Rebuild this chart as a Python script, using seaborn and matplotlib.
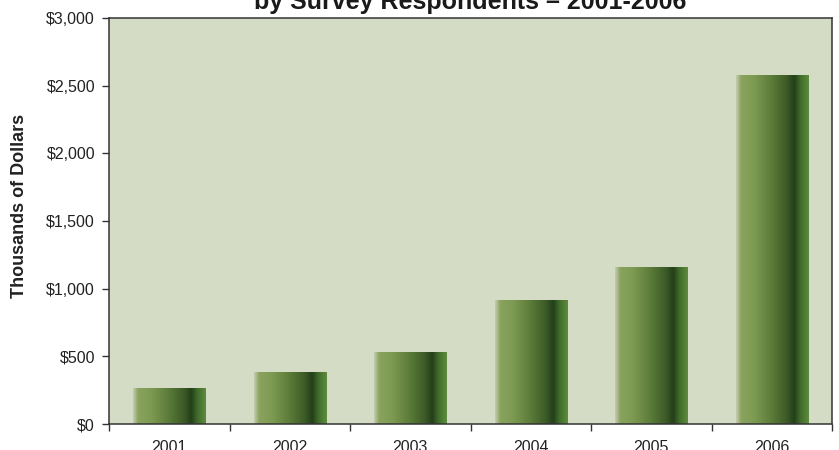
import numpy as np
import pandas as pd
import matplotlib
matplotlib.use("Agg")
import matplotlib.pyplot as plt
from matplotlib.colors import LinearSegmentedColormap
from matplotlib.ticker import FuncFormatter, MultipleLocator, FixedLocator
import seaborn as sns

# Data (thousands of dollars per year)
years = ["2001", "2002", "2003", "2004", "2005", "2006"]
amounts = [266, 377, 525, 916, 1160, 2572]

title_text = "by Survey Respondents \u2013 2001-2006"
ylabel_text = "Thousands of Dollars"

sns.set_theme(style="white")
plt.rcParams["font.family"] = ["Liberation Sans", "DejaVu Sans"]

fig = plt.figure(figsize=(8.39, 4.5), dpi=100)
ax = fig.add_axes([109 / 839, 1 - 424 / 450, 723 / 839, 406 / 450])
ax.set_facecolor("#d5dcc5")

df = pd.DataFrame({"year": years, "amount": amounts})
sns.barplot(data=df, x="year", y="amount", color="#5f7d3c", width=0.6,
            saturation=1, ax=ax, zorder=2)

# Horizontal cylinder-like shading for each bar
shade = LinearSegmentedColormap.from_list(
    "bar_shade",
    [(0.00, "#c4ccb0"), (0.07, "#8aa35e"), (0.25, "#7d9a52"),
     (0.50, "#5a7a38"), (0.70, "#3b5a27"), (0.80, "#233f19"),
     (0.88, "#3f6a2a"), (1.00, "#5e8c3d")])
grad = np.linspace(0, 1, 256).reshape(1, -1)
for p in list(ax.patches):
    x0, w, h = p.get_x(), p.get_width(), p.get_height()
    ax.imshow(grad, cmap=shade, aspect="auto", extent=[x0, x0 + w, 0, h],
              zorder=2, interpolation="bilinear")
    p.set_visible(False)

ax.set_xlim(-0.5, len(years) - 0.5)
ax.set_ylim(0, 3000)

# Axis formatting
ax.yaxis.set_major_locator(MultipleLocator(500))
ax.yaxis.set_major_formatter(FuncFormatter(lambda v, _: f"${v:,.0f}"))
ax.xaxis.set_minor_locator(FixedLocator(np.arange(-0.5, len(years), 1.0)))
ax.tick_params(axis="y", which="major", left=True, length=5, width=1,
               color="#333333", pad=5, labelsize=11.5, labelcolor="#222222")
ax.tick_params(axis="x", which="major", bottom=True, length=0, pad=11.5,
               labelsize=11.5, labelcolor="#222222")
ax.tick_params(axis="x", which="minor", bottom=True, length=5, width=1,
               color="#333333")

for s in ax.spines.values():
    s.set_visible(True)
    s.set_color("#333333")
    s.set_linewidth(1.1)

ax.set_xlabel("")
ax.set_ylabel(ylabel_text, fontsize=13, fontweight="bold", color="#222222")
ax.yaxis.set_label_coords(-0.112, 0.537)

fig.text(0.5605, 1 - 8.5 / 450, title_text, ha="center", va="baseline",
         fontsize=18, fontweight="bold", color="#1a1a1a")

fig.savefig("out.png", dpi=100, facecolor="white")
